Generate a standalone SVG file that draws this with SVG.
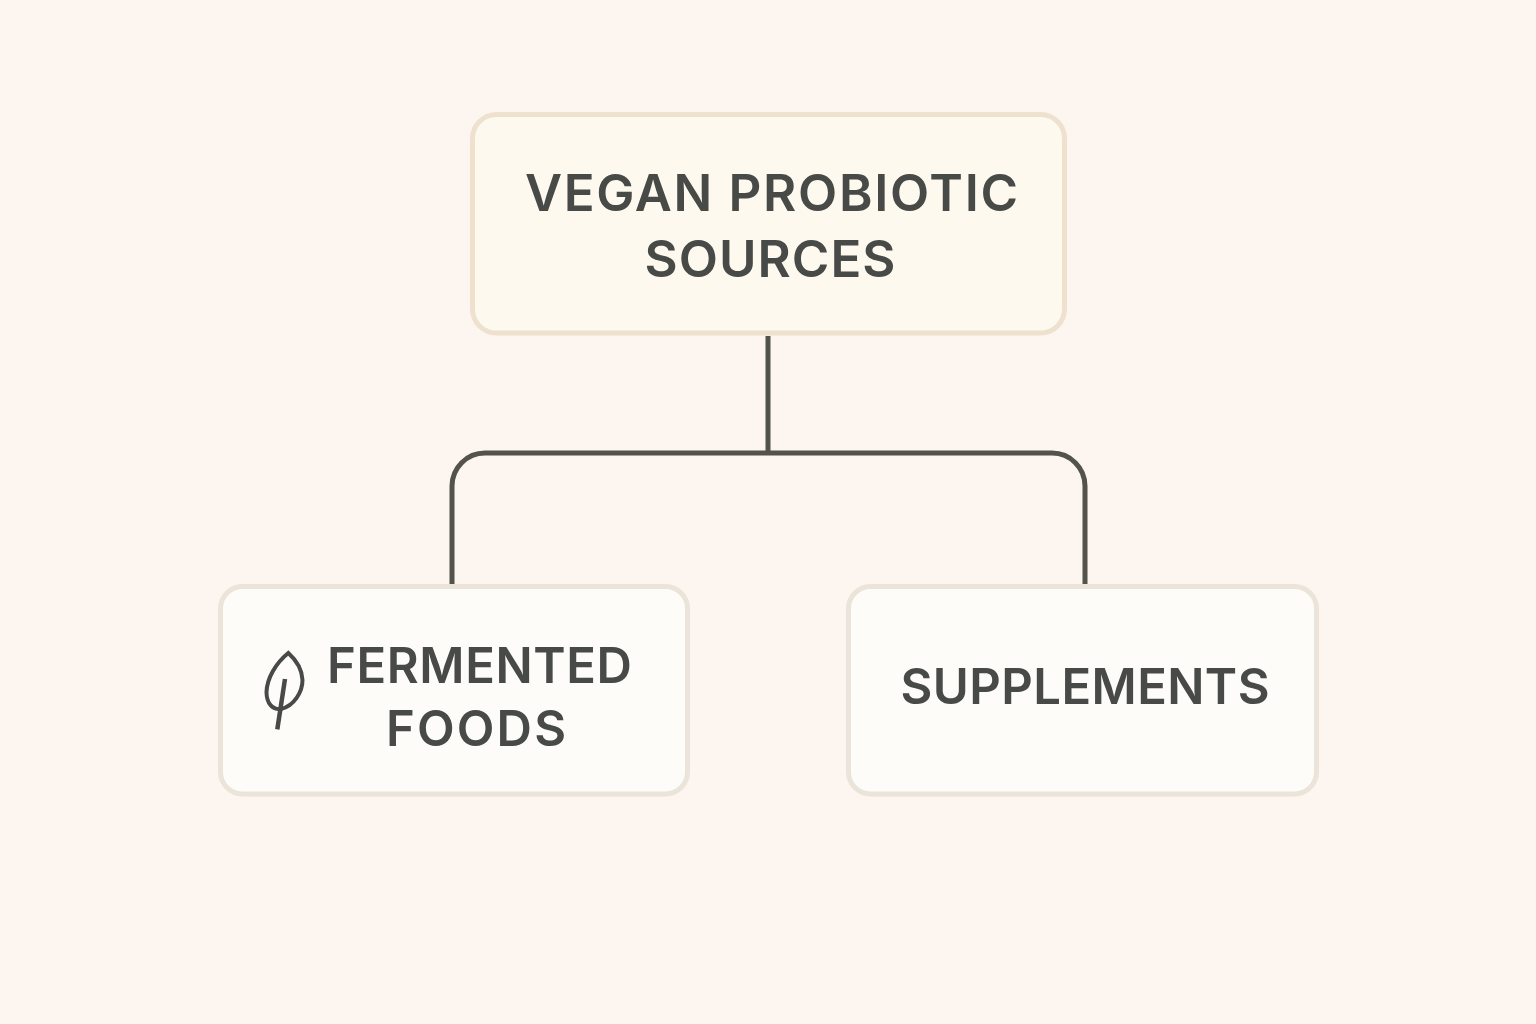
<svg xmlns="http://www.w3.org/2000/svg" width="1536" height="1024" viewBox="0 0 1536 1024">
<style>
.t{font-family:"Inter","Liberation Sans",sans-serif;font-weight:600;fill:#484a47;text-anchor:middle}
.h{font-size:51px}
.s{font-size:49px}
.c{fill:none;stroke:#53534b;stroke-width:5}
</style>
<rect width="1536" height="1024" fill="#fdf5ef"/>
<g id="connectors">
<path class="c" d="M768 336V453"/>
<path class="c" d="M452 584V486A33 33 0 0 1 485 453H1052A33 33 0 0 1 1085 486V584"/>
</g>
<g id="root">
<rect x="472.500" y="114.500" width="592" height="218.500" rx="24" fill="#fef9ee" stroke="#eee2cf" stroke-width="5"/>
<text class="t h" x="771.500" y="210.500" textLength="493">VEGAN PROBIOTIC</text>
<text class="t h" x="770" y="277" textLength="251">SOURCES</text>
</g>
<g id="fermented">
<rect x="220.500" y="586.500" width="467" height="207.500" rx="22" fill="#fefcf8" stroke="#ebe4da" stroke-width="5"/>
<path d="M288.300 653C276 663 267 678 266.500 692C266.500 704 273 710 281 709C294 706 302.500 692 302.500 680C302 669 295 659 288.300 653Z" fill="none" stroke="#484a47" stroke-width="4"/>
<path d="M285 679L277.300 729.300" fill="none" stroke="#484a47" stroke-width="4.500"/>
<text class="t s" x="479.500" y="682.500" textLength="305">FERMENTED</text>
<text class="t s" x="476" y="745.500" textLength="180">FOODS</text>
</g>
<g id="supplements">
<rect x="848.500" y="586.500" width="468" height="207.500" rx="22" fill="#fefcf8" stroke="#ebe4da" stroke-width="5"/>
<text class="t s" x="1085" y="703.500" textLength="369">SUPPLEMENTS</text>
</g>
</svg>
